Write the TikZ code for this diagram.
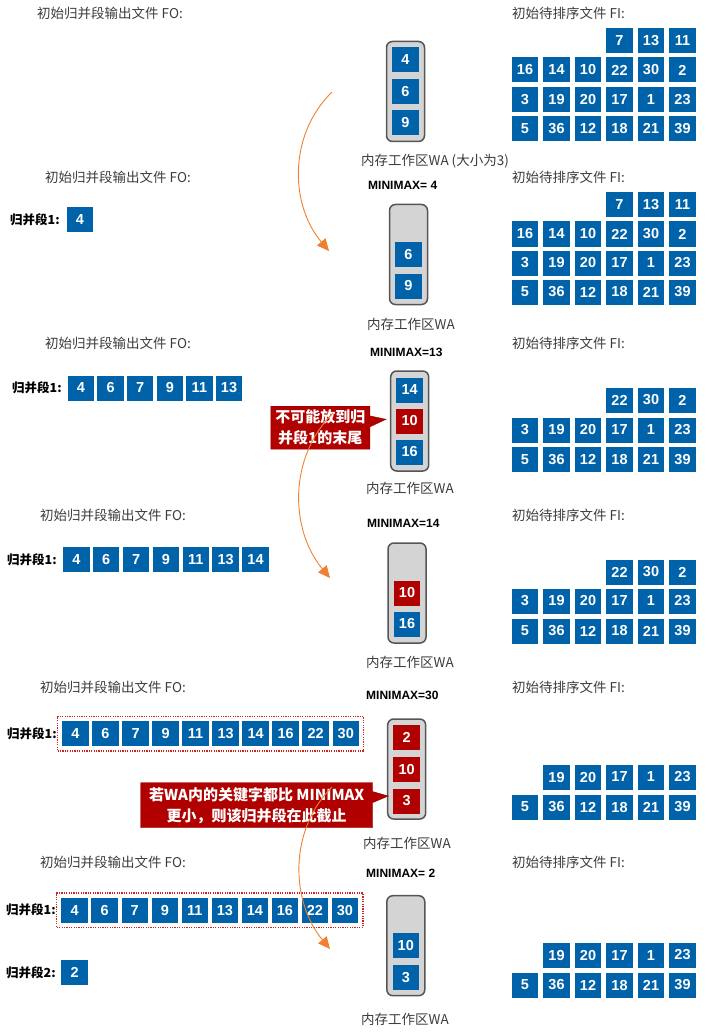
\documentclass[tikz,border=0pt]{standalone}
\usepackage{fontspec}
\setmainfont{Liberation Sans}
\newfontfamily\cjk{Noto Sans CJK SC}
\usetikzlibrary{arrows.meta,shapes.callouts,fit}
\definecolor{cellblue}{RGB}{0,98,168}
\definecolor{hotred}{RGB}{176,0,0}
\definecolor{wagray}{RGB}{212,212,212}
\definecolor{waedge}{RGB}{85,85,85}
\definecolor{floworange}{RGB}{240,128,48}
\definecolor{txtgray}{RGB}{60,60,60}
\definecolor{dotred}{RGB}{205,35,35}
\tikzset{
  cell/.style={rectangle,fill=cellblue,text=white,inner sep=0pt,minimum width=26.5pt,minimum height=25pt,font=\bfseries\fontsize{14.5}{14.5}\selectfont},
  hot/.style={cell,fill=hotred},
  wabox/.style={rectangle,rounded corners=6pt,fill=wagray,draw=waedge,line width=1.5pt,minimum width=38pt,minimum height=100pt},
  lbl/.style={inner sep=0pt,text=txtgray,font=\cjk\fontsize{13.5}{14}\selectfont},
  mm/.style={anchor=west,inner sep=0pt,font=\bfseries\fontsize{12}{12}\selectfont},
  seg/.style={anchor=west,inner sep=0pt,font=\cjk\bfseries\fontsize{12.5}{13}\selectfont},
  warn/.style={rectangle callout,fill=hotred,draw=hotred!80!black,text=white,align=center,inner sep=0pt,callout pointer width=11pt,font=\cjk\bfseries\fontsize{15}{21}\selectfont},
  dotbox/.style={draw=dotred,dash pattern=on 1.2pt off 1.2pt,line width=1.3pt,inner sep=4.5pt},
  flowarrow/.style={draw=floworange,line width=0.9pt,-{Triangle[length=12pt,width=11pt]}},
}
\newcommand\firow[4]{\foreach \v [count=\i from #3] in {#4}
  \node[cell] (#1\i) at ({525+31.5*(\i-1)},#2) {\v};}
\newcommand\segrow[5]{\foreach \v [count=\i] in {#5}
  \node[cell] (#1\i) at ({#2+#3*(\i-1)},#4) {\v};}
\begin{document}
\begin{tikzpicture}[x=1pt,y=-1pt]
  \useasboundingbox (0,0) rectangle (706,1032);

  \node[lbl,anchor=west] (fo1) at (37,13) {初始归并段输出文件 FO:};
  \node[lbl,anchor=west] (fi1) at (512,13) {初始待排序文件 FI:};
  \node[wabox] (wa1) at (405.5,91.5) {};
  \node[cell] (wa1a) at (405.5,60) {4};
  \node[cell] (wa1b) at (405.5,91.5) {6};
  \node[cell] (wa1c) at (405.5,123) {9};
  \node[lbl] (wal1) at (435,161) {内存工作区WA (大小为3)};
  \firow{fi1a}{40.5}{4}{7,13,11}
  \firow{fi1b}{70}{1}{16,14,10,22,30,2}
  \firow{fi1c}{99.5}{1}{3,19,20,17,1,23}
  \firow{fi1d}{128.5}{1}{5,36,12,18,21,39}

  \node[lbl,anchor=west] (fo2) at (45,177) {初始归并段输出文件 FO:};
  \node[mm] (mm2) at (368,185) {MINIMAX= 4};
  \node[lbl,anchor=west] (fi2) at (512,177) {初始待排序文件 FI:};
  \node[seg] (seg2) at (10,220) {归并段1:};
  \segrow{s2o}{80}{29.6}{220}{4}
  \node[wabox] (wa2) at (408.5,254.5) {};
  \node[cell] (wa2b) at (408.5,254.5) {6};
  \node[cell] (wa2c) at (408.5,286) {9};
  \node[lbl] (wal2) at (411,324) {内存工作区WA};
  \firow{fi2a}{204.5}{4}{7,13,11}
  \firow{fi2b}{234}{1}{16,14,10,22,30,2}
  \firow{fi2c}{263}{1}{3,19,20,17,1,23}
  \firow{fi2d}{292}{1}{5,36,12,18,21,39}

  \node[lbl,anchor=west] (fo3) at (45,343) {初始归并段输出文件 FO:};
  \node[mm] (mm3) at (370,352) {MINIMAX=13};
  \node[lbl,anchor=west] (fi3) at (512,343) {初始待排序文件 FI:};
  \node[seg] (seg3) at (12,388) {归并段1:};
  \segrow{s3o}{81}{29.6}{388}{4,6,7,9,11,13}
  \node[wabox] (wa3) at (409.7,421) {};
  \node[cell] (wa3a) at (409.7,390) {14};
  \node[hot] (wa3b) at (409.7,421) {10};
  \node[cell] (wa3c) at (409.7,452) {16};
  \node[lbl] (wal3) at (410,488.5) {内存工作区WA};
  \firow{fi3a}{400}{4}{22,30,2}
  \firow{fi3b}{430}{1}{3,19,20,17,1,23}
  \firow{fi3c}{459.5}{1}{5,36,12,18,21,39}
  \node[warn,minimum width=99pt,minimum height=43pt,callout absolute pointer={(386,419.3)}] (tip3) at (320.3,427.7) {不可能放到归\\并段1的末尾};

  \node[lbl,anchor=west] (fo4) at (40,515) {初始归并段输出文件 FO:};
  \node[mm] (mm4) at (367,523) {MINIMAX=14};
  \node[lbl,anchor=west] (fi4) at (512,515) {初始待排序文件 FI:};
  \node[seg] (seg4) at (7,560) {归并段1:};
  \segrow{s4o}{76.3}{29.87}{559.5}{4,6,7,9,11,13,14}
  \node[wabox] (wa4) at (407,593) {};
  \node[hot] (wa4b) at (407,593) {10};
  \node[cell] (wa4c) at (407,624) {16};
  \node[lbl] (wal4) at (410,662) {内存工作区WA};
  \firow{fi4a}{572}{4}{22,30,2}
  \firow{fi4b}{601}{1}{3,19,20,17,1,23}
  \firow{fi4c}{631}{1}{5,36,12,18,21,39}

  \node[lbl,anchor=west] (fo5) at (40,687) {初始归并段输出文件 FO:};
  \node[mm] (mm5) at (366,695) {MINIMAX=30};
  \node[lbl,anchor=west] (fi5) at (512,687) {初始待排序文件 FI:};
  \node[seg] (seg5) at (7,734) {归并段1:};
  \segrow{s5o}{75.5}{30.03}{733.7}{4,6,7,9,11,13,14,16,22,30}
  \node[dotbox,fit=(s5o1)(s5o10)] (run5) {};
  \node[wabox] (wa5) at (406.7,769) {};
  \node[hot] (wa5a) at (406.7,737) {2};
  \node[hot] (wa5b) at (406.7,769) {10};
  \node[hot] (wa5c) at (406.7,801) {3};
  \node[lbl] (wal5) at (407,843) {内存工作区WA};
  \firow{fi5a}{777}{2}{19,20,17,1,23}
  \firow{fi5b}{807}{1}{5,36,12,18,21,39}
  \node[warn,minimum width=232pt,minimum height=45pt,callout absolute pointer={(388.3,796)}] (tip5) at (256.7,805.2) {若WA内的关键字都比 MINIMAX\\更小，则该归并段在此截止};

  \node[lbl,anchor=west] (fo6) at (40,862) {初始归并段输出文件 FO:};
  \node[mm] (mm6) at (366,873) {MINIMAX= 2};
  \node[lbl,anchor=west] (fi6) at (512,862) {初始待排序文件 FI:};
  \node[seg] (seg6) at (6,910) {归并段1:};
  \segrow{s6o}{74.7}{30.03}{910.3}{4,6,7,9,11,13,14,16,22,30}
  \node[dotbox,fit=(s6o1)(s6o10)] (run6) {};
  \node[seg] (seg6b) at (6,973) {归并段2:};
  \node[cell] (s6p1) at (74.7,972.7) {2};
  \node[wabox] (wa6) at (405.8,945.7) {};
  \node[cell] (wa6b) at (405.8,945.7) {10};
  \node[cell] (wa6c) at (405.8,977.7) {3};
  \node[lbl] (wal6) at (405,1019.5) {内存工作区WA};
  \firow{fi6a}{955}{2}{19,20,17,1,23}
  \firow{fi6b}{985}{1}{5,36,12,18,21,39}

  \coordinate (a1s) at (332,92);
  \coordinate (a1e) at (329,251);
  \coordinate (a2s) at (333,413);
  \coordinate (a2e) at (330,578);
  \coordinate (a3s) at (332,787);
  \coordinate (a3e) at (330,949);
  \draw[flowarrow] (a1s) .. controls +(-44,43) and +(-39,-46) .. (a1e);
  \draw[flowarrow] (a2s) .. controls +(-45,45) and +(-40,-48) .. (a2e);
  \draw[flowarrow] (a3s) .. controls +(-44,44) and +(-39,-47) .. (a3e);
\end{tikzpicture}
\end{document}
